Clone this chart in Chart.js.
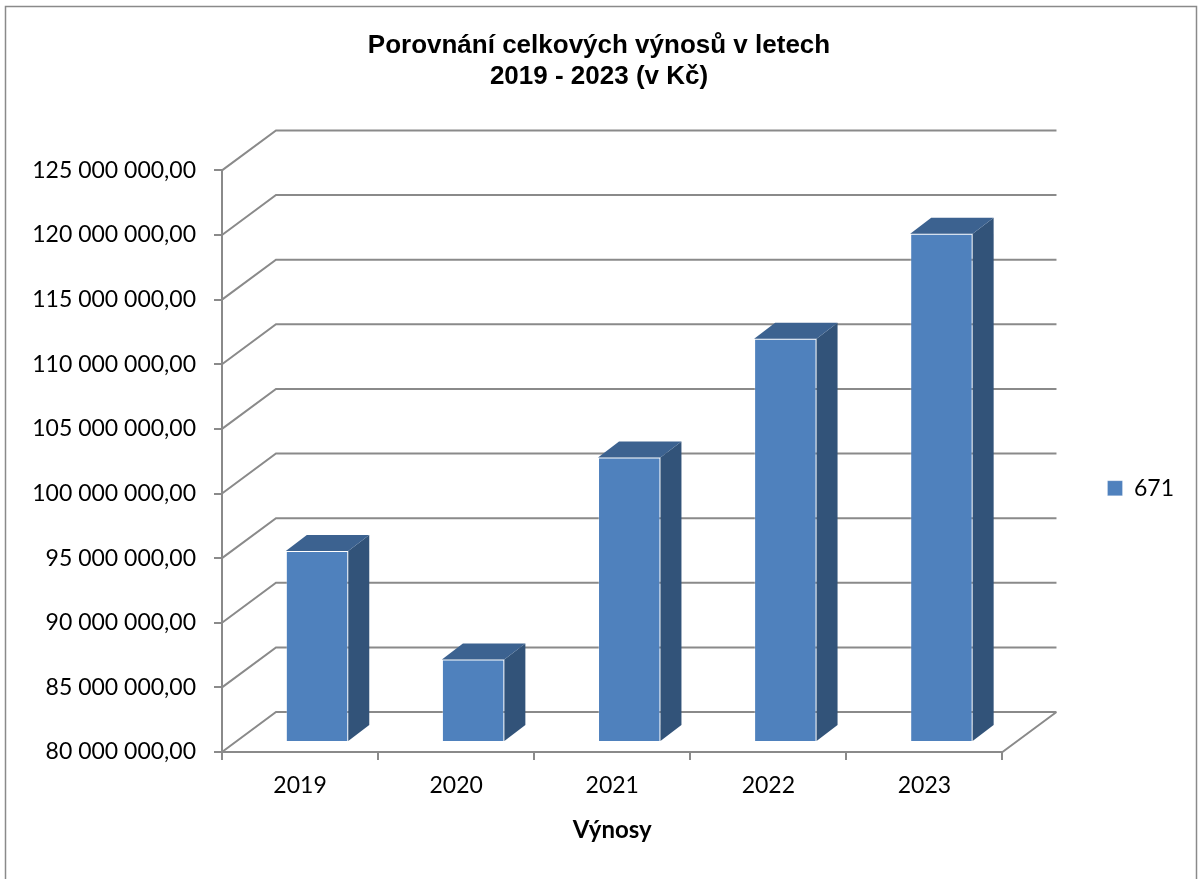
<!DOCTYPE html>
<html>
<head>
<meta charset="utf-8">
<script src="https://cdn.jsdelivr.net/npm/chart.js@4"></script>
<style>
  html, body { margin: 0; padding: 0; background: #fff; }
  #wrap { width: 1198px; height: 879px; }
</style>
</head>
<body>
<div id="wrap"><canvas id="chart"></canvas></div>
<script>
const years = ["2019", "2020", "2021", "2022", "2023"];
const revenues = [94770000, 86390000, 102010000, 111210000, 119330000];
const seriesName = "671";
const yMin = 80000000;
const yMax = 125000000;
const yStep = 5000000;
const yTickLabels = [
  "80 000 000,00",
  "85 000 000,00",
  "90 000 000,00",
  "95 000 000,00",
  "100 000 000,00",
  "105 000 000,00",
  "110 000 000,00",
  "115 000 000,00",
  "120 000 000,00",
  "125 000 000,00",
];

// 3D look: back wall offset, bar position inside the depth, bar depth
const depth = { dx: 54, dy: -40 };
const barShift = { dx: 17, dy: -10 };
const barDepth = { dx: 21, dy: -16 };
const gridColor = "#8a8a8a";
const frontColor = "#4f81bd";
const sideColor = "#325379";
const topColor = "#3c6290";

const frame3d = {
  id: "frame3d",
  afterLayout(chart) {
    // Excel puts the legend a bit lower than the plot centre
    chart.legend.top += 27;
    chart.legend.bottom += 27;
  },
  beforeDraw(chart) {
    const ctx = chart.ctx;
    ctx.save();
    ctx.strokeStyle = gridColor;
    ctx.lineWidth = 1.5;
    ctx.strokeRect(5.5, 6.5, chart.width - 7, chart.height + 20);
    ctx.restore();
  },
  beforeDatasetsDraw(chart) {
    const { ctx, chartArea: a, scales } = chart;
    const y = scales.y;
    ctx.save();
    ctx.strokeStyle = gridColor;
    ctx.lineWidth = 2;
    ctx.beginPath();
    y.ticks.forEach((t) => {
      const py = y.getPixelForValue(t.value);
      ctx.moveTo(a.left, py);
      ctx.lineTo(a.left + depth.dx, py + depth.dy);
      ctx.lineTo(a.right + depth.dx, py + depth.dy);
    });
    ctx.moveTo(a.right, a.bottom);
    ctx.lineTo(a.right + depth.dx, a.bottom + depth.dy);
    ctx.stroke();
    ctx.restore();
    // front faces are drawn by chart.js, moved into the depth
    ctx.save();
    ctx.translate(barShift.dx, barShift.dy);
  },
  afterDatasetsDraw(chart) {
    const ctx = chart.ctx;
    ctx.restore();
    chart.getDatasetMeta(0).data.forEach((bar) => {
      const { x, y, base, width } = bar.getProps(["x", "y", "base", "width"], true);
      const l = x - width / 2 + barShift.dx;
      const r = x + width / 2 + barShift.dx;
      const t = y + barShift.dy;
      const b = base + barShift.dy;
      ctx.save();
      ctx.fillStyle = sideColor;
      ctx.beginPath();
      ctx.moveTo(r, t);
      ctx.lineTo(r + barDepth.dx, t + barDepth.dy);
      ctx.lineTo(r + barDepth.dx, b + barDepth.dy);
      ctx.lineTo(r, b);
      ctx.closePath();
      ctx.fill();
      ctx.fillStyle = topColor;
      ctx.beginPath();
      ctx.moveTo(l, t);
      ctx.lineTo(l + barDepth.dx, t + barDepth.dy);
      ctx.lineTo(r + barDepth.dx, t + barDepth.dy);
      ctx.lineTo(r, t);
      ctx.closePath();
      ctx.fill();
      ctx.restore();
    });
  },
};

Chart.defaults.font.family = "Lato";
Chart.defaults.color = "#000";

const ctx = document.getElementById("chart");
new Chart(ctx, {
  type: "bar",
  data: {
    labels: years,
    datasets: [
      {
        label: seriesName,
        data: revenues,
        base: yMin,
        backgroundColor: frontColor,
        borderColor: "rgba(255,255,255,0.25)",
        borderWidth: 1,
        categoryPercentage: 1,
        barPercentage: 0.4,
        clip: false,
      },
    ],
  },
  options: {
    responsive: true,
    maintainAspectRatio: false,
    animation: false,
    layout: { padding: { left: 14, right: 14, top: 0, bottom: 0 } },
    plugins: {
      title: {
        display: true,
        text: ["Porovnání celkových výnosů v letech", "2019 - 2023 (v Kč)"],
        font: { family: "Liberation Sans", size: 26, weight: "bold", lineHeight: 1.2 },
        color: "#000",
        padding: { top: 30, bottom: 78 },
      },
      legend: {
        position: "right",
        fullSize: false,
        labels: {
          boxWidth: 15,
          boxHeight: 15,
          padding: 105,
          font: { size: 23 },
        },
      },
      tooltip: { enabled: false },
    },
    scales: {
      x: {
        grid: {
          drawOnChartArea: false,
          drawTicks: true,
          tickLength: 8,
          color: gridColor,
          lineWidth: 2,
        },
        border: { color: gridColor, width: 2 },
        ticks: { font: { size: 23 }, padding: 12 },
        title: {
          display: true,
          text: "Výnosy",
          font: { size: 24, weight: "bold" },
          padding: { top: 0, bottom: 34 },
        },
        afterFit(scale) {
          scale.height = 127;
        },
      },
      y: {
        min: yMin,
        max: yMax,
        grid: {
          drawOnChartArea: false,
          drawTicks: true,
          tickLength: 8,
          color: gridColor,
          lineWidth: 2,
        },
        border: { color: gridColor, width: 2 },
        ticks: {
          stepSize: yStep,
          font: { size: 23 },
          padding: 18,
          callback: (v, i) => yTickLabels[i],
        },
        afterFit(scale) {
          scale.width = 208;
        },
      },
    },
  },
  plugins: [frame3d],
});
</script>
</body>
</html>
